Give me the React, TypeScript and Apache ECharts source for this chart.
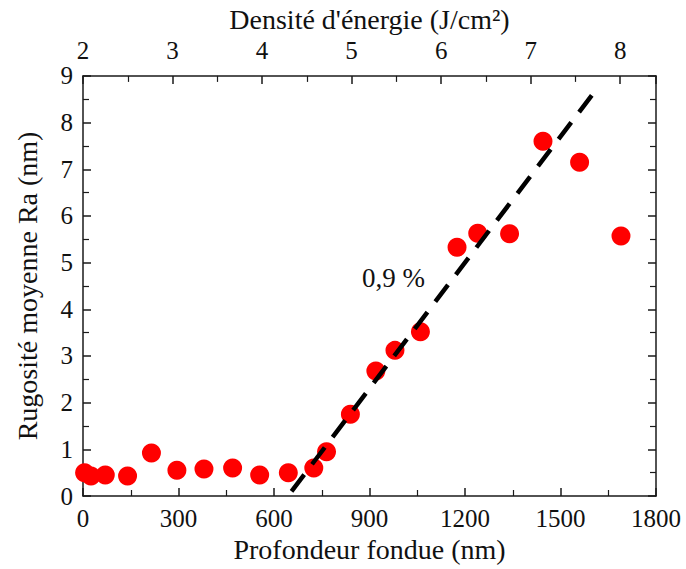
import React, { useEffect, useRef } from "react";
import * as echarts from "echarts";

// Measured data: melted depth (nm) vs mean roughness Ra (nm)
const depthNm = [5, 25, 70, 140, 215, 295, 380, 470, 555, 645, 725, 765, 840, 920, 980, 1060, 1175, 1240, 1340, 1445, 1560, 1690];
const roughnessNm = [0.5, 0.43, 0.45, 0.43, 0.92, 0.55, 0.58, 0.6, 0.45, 0.5, 0.6, 0.95, 1.75, 2.68, 3.12, 3.52, 5.33, 5.63, 5.62, 7.6, 7.15, 5.57];

// Linear fit (slope 0.9 %)
const fitX = [655, 1620];
const fitY = [0.1, 8.78];
const fitLabel = "0,9 %";

const xTitle = "Profondeur fondue (nm)";
const yTitle = "Rugosité moyenne Ra (nm)";
const topTitle = "Densité d'énergie (J/cm²)";

const FONT = "Times New Roman";
const AXIS_COLOR = "#1a1a1a";
const TEXT_COLOR = "#111";

export default function App() {
  const ref = useRef<HTMLDivElement>(null);
  useEffect(() => {
    if (!ref.current) return;
    const chart = echarts.init(ref.current, undefined, { renderer: "svg" });
    const axisLine = { show: true, onZero: false, lineStyle: { color: AXIS_COLOR, width: 1.5 } };
    const tick = { show: true, inside: true, length: 8, lineStyle: { color: AXIS_COLOR, width: 1.5 } };
    const minor = { show: true, splitNumber: 2, length: 6, lineStyle: { color: AXIS_COLOR, width: 1.2 } };
    chart.setOption({
      animation: false,
      backgroundColor: "#fff",
      grid: { left: 83, right: 30, top: 73, bottom: 73, containLabel: false },
      xAxis: [
        {
          type: "value",
          position: "bottom",
          min: 0,
          max: 1800,
          interval: 300,
          name: xTitle,
          nameLocation: "middle",
          nameGap: 36,
          nameTextStyle: { color: TEXT_COLOR, fontFamily: FONT, fontSize: 28 },
          axisLine,
          axisTick: tick,
          minorTick: minor,
          splitLine: { show: false },
          axisLabel: { color: TEXT_COLOR, fontFamily: FONT, fontSize: 25, margin: 10, formatter: (v: number) => String(v) },
        },
        {
          type: "value",
          position: "top",
          min: 2,
          max: 8.4,
          interval: 1,
          name: topTitle,
          nameLocation: "middle",
          nameGap: 39,
          nameTextStyle: { color: TEXT_COLOR, fontFamily: FONT, fontSize: 28 },
          axisLine,
          axisTick: tick,
          minorTick: minor,
          splitLine: { show: false },
          axisLabel: {
            color: TEXT_COLOR,
            fontFamily: FONT,
            fontSize: 25,
            margin: 13,
            showMaxLabel: false,
            formatter: (v: number) => (Number.isInteger(v) ? String(v) : ""),
          },
        },
      ],
      yAxis: [
        {
          type: "value",
          position: "left",
          min: 0,
          max: 9,
          interval: 1,
          name: yTitle,
          nameLocation: "middle",
          nameGap: 42,
          nameTextStyle: { color: TEXT_COLOR, fontFamily: FONT, fontSize: 28 },
          axisLine,
          axisTick: tick,
          minorTick: minor,
          splitLine: { show: false },
          axisLabel: { color: TEXT_COLOR, fontFamily: FONT, fontSize: 25, margin: 10 },
        },
        {
          type: "value",
          position: "right",
          min: 0,
          max: 9,
          interval: 1,
          axisLine,
          axisTick: tick,
          minorTick: minor,
          splitLine: { show: false },
          axisLabel: { show: false },
        },
      ],
      series: [
        {
          type: "line",
          xAxisIndex: 0,
          yAxisIndex: 0,
          data: fitX.map((x, i) => [x, fitY[i]]),
          showSymbol: false,
          symbol: "none",
          lineStyle: { color: "#000", width: 4.5, type: [21, 13] },
          z: 3,
        },
        {
          type: "scatter",
          xAxisIndex: 0,
          yAxisIndex: 0,
          data: depthNm.map((x, i) => [x, roughnessNm[i]]),
          symbol: "circle",
          symbolSize: 19,
          itemStyle: { color: "#ff0000", opacity: 1 },
          clip: true,
          z: 2,
        },
      ],
      graphic: [
        {
          type: "text",
          left: 362,
          top: 264,
          style: { text: fitLabel, fill: TEXT_COLOR, fontFamily: FONT, fontSize: 27 },
        },
      ],
    });
    return () => chart.dispose();
  }, []);
  return <div ref={ref} style={{ width: 686, height: 569, position: "absolute", left: 0, top: 0 }} />;
}
